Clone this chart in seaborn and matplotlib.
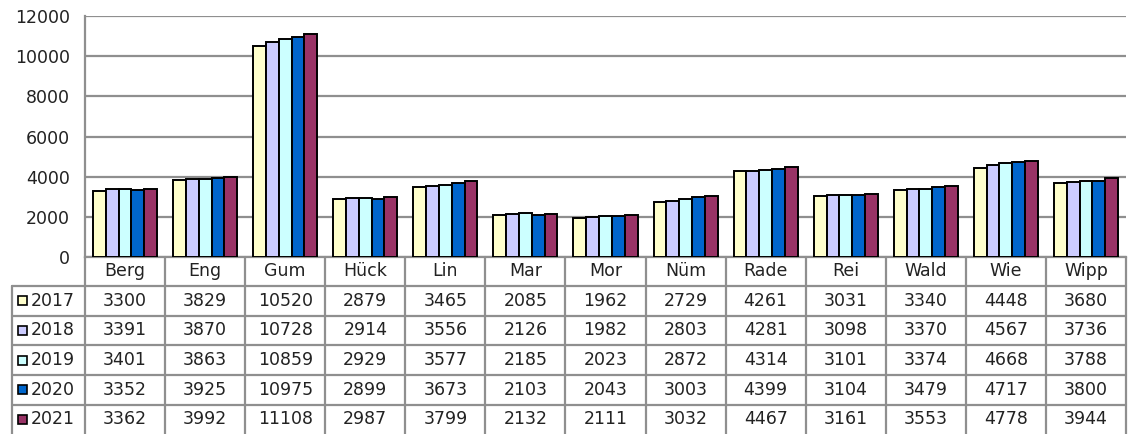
import matplotlib
matplotlib.use("Agg")
import matplotlib.pyplot as plt
import matplotlib.transforms as mtransforms
from matplotlib.patches import Rectangle
import seaborn as sns
import pandas as pd

categories = ["Berg", "Eng", "Gum", "Hück", "Lin", "Mar", "Mor", "Nüm", "Rade", "Rei", "Wald", "Wie", "Wipp"]
years = ["2017", "2018", "2019", "2020", "2021"]
v2017 = [3300, 3829, 10520, 2879, 3465, 2085, 1962, 2729, 4261, 3031, 3340, 4448, 3680]
v2018 = [3391, 3870, 10728, 2914, 3556, 2126, 1982, 2803, 4281, 3098, 3370, 4567, 3736]
v2019 = [3401, 3863, 10859, 2929, 3577, 2185, 2023, 2872, 4314, 3101, 3374, 4668, 3788]
v2020 = [3352, 3925, 10975, 2899, 3673, 2103, 2043, 3003, 4399, 3104, 3479, 4717, 3800]
v2021 = [3362, 3992, 11108, 2987, 3799, 2132, 2111, 3032, 4467, 3161, 3553, 4778, 3944]
series = [v2017, v2018, v2019, v2020, v2021]
colors = ["#FFFFCC", "#CCCCFF", "#CCFFFF", "#0066CC", "#993366"]
yticks = [0, 2000, 4000, 6000, 8000, 10000, 12000]

rows = []
for y, vals in zip(years, series):
    for c, v in zip(categories, vals):
        rows.append({"cat": c, "year": y, "val": v})
df = pd.DataFrame(rows)

sns.set_style("white")
plt.rcParams["font.family"] = ["DejaVu Sans"]

W, H = 1129, 434
fig = plt.figure(figsize=(W / 100, H / 100), dpi=100)
L, R, T, B = 85, 1126, 16, 257
ax = fig.add_axes([L / W, 1 - B / H, (R - L) / W, (B - T) / H])

sns.barplot(data=df, x="cat", y="val", hue="year", order=categories, hue_order=years,
            palette=colors, saturation=1, width=0.8, gap=0, edgecolor="black",
            linewidth=1.4, ax=ax, legend=False, zorder=3)

grid_c = "#8f8f8f"
txt_c = "#222222"
ax.set_xlim(-0.5, len(categories) - 0.5)
ax.set_ylim(0, 12000)
ax.set_yticks(yticks)
ax.set_yticklabels([str(t) for t in yticks], fontsize=12.5, color=txt_c)
ax.yaxis.grid(True, color=grid_c, linewidth=1.6, zorder=0)
ax.set_axisbelow(True)
ax.set_xticks([])
ax.set_xlabel("")
ax.set_ylabel("")
for s in ["top", "right"]:
    ax.spines[s].set_visible(False)
ax.spines["left"].set_color(grid_c)
ax.spines["left"].set_linewidth(1.6)
ax.spines["bottom"].set_color(grid_c)
ax.spines["bottom"].set_linewidth(1.6)
ax.tick_params(axis="y", length=5, width=1.4, color=grid_c, pad=6)

# table below the plot: x in data coords, y in figure fraction
tr = mtransforms.blended_transform_factory(ax.transData, fig.transFigure)
def fy(p):
    return 1 - p / H

n = len(categories)
row_lines = [286, 315.5, 345, 375, 404.5, 434]
label_left_x = -0.5 - (L - 12) / ((R - L) / n)

# vertical separators between categories
for i in range(n + 1):
    ax.plot([i - 0.5, i - 0.5], [fy(B), fy(H)], transform=tr, color=grid_c,
            lw=1.6, clip_on=False, zorder=1)
# left edge of label column
ax.plot([label_left_x, label_left_x], [fy(row_lines[0]), fy(H)], transform=tr,
        color=grid_c, lw=1.6, clip_on=False)
# horizontal lines
for yl in row_lines[:-1]:
    ax.plot([label_left_x, n - 0.5], [fy(yl), fy(yl)], transform=tr, color=grid_c,
            lw=1.6, clip_on=False)

# header
for i, c in enumerate(categories):
    ax.text(i, fy((B + row_lines[0]) / 2), c, transform=tr, ha="center", va="center",
            fontsize=12.5, color=txt_c)

# rows
for r, (y, vals, col) in enumerate(zip(years, series, colors)):
    yc = fy((row_lines[r] + row_lines[r + 1]) / 2)
    for i, v in enumerate(vals):
        ax.text(i, yc, str(v), transform=tr, ha="center", va="center",
                fontsize=12.5, color=txt_c)
    # legend key
    fig.patches.append(Rectangle((17.5 / W, yc - 4.5 / H), 9 / W, 9 / H,
                                 transform=fig.transFigure, facecolor=col,
                                 edgecolor="black", linewidth=1.2))
    fig.text(31 / W, yc, y, ha="left", va="center", fontsize=12.5, color=txt_c)

fig.savefig("out.png", dpi=100)
